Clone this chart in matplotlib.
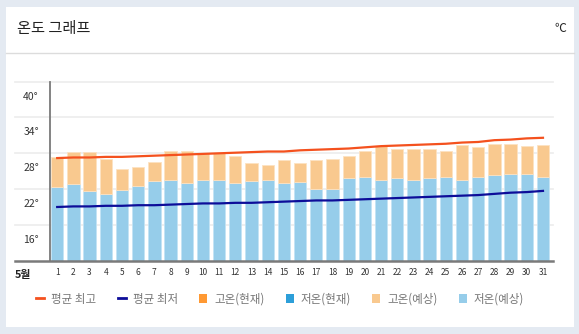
import numpy as np
import matplotlib
matplotlib.use("Agg")
import matplotlib.pyplot as plt
from matplotlib.lines import Line2D
from matplotlib.patches import Patch
from matplotlib.transforms import ScaledTranslation

plt.rcParams['font.family'] = ['Noto Sans CJK KR', 'DejaVu Sans']

# data (5월, day 1..31)
days = list(range(1, 32))
high_fc = [27.3, 28.3, 28.3, 27.1, 25.4, 25.7, 26.6, 28.4, 28.4, 28.1,
           28.1, 27.5, 26.4, 26.0, 26.9, 26.4, 26.9, 27.0, 27.5, 28.4,
           29.3, 28.7, 28.8, 28.8, 28.4, 29.4, 29.1, 29.6, 29.6, 29.3, 29.4]
low_fc = [22.4, 22.9, 21.7, 21.2, 21.9, 22.6, 23.4, 23.6, 23.0, 23.6,
          23.6, 23.0, 23.4, 23.6, 23.1, 23.2, 22.0, 22.0, 23.9, 24.0,
          23.6, 23.9, 23.6, 23.9, 24.0, 23.6, 24.1, 24.3, 24.5, 24.6, 24.1]
avg_high = [27.2, 27.3, 27.3, 27.4, 27.4, 27.5, 27.6, 27.7, 27.8, 27.9,
            28.0, 28.1, 28.2, 28.3, 28.3, 28.5, 28.6, 28.7, 28.8, 29.0,
            29.2, 29.3, 29.4, 29.5, 29.6, 29.8, 29.9, 30.2, 30.3, 30.5, 30.6]
avg_low = [19.0, 19.1, 19.1, 19.2, 19.2, 19.3, 19.3, 19.4, 19.5, 19.6,
           19.6, 19.7, 19.7, 19.8, 19.9, 20.0, 20.1, 20.1, 20.2, 20.3,
           20.4, 20.5, 20.6, 20.7, 20.8, 20.9, 21.0, 21.2, 21.4, 21.5, 21.7]
y_ticks = [40, 34, 28, 22, 16]
y_labels = ["40°", "34°", "28°", "22°", "16°"]
legend_labels = ["평균 최고", "평균 최저", "고온(현재)", "저온(현재)", "고온(예상)", "저온(예상)"]

W, H = 579, 334
fig = plt.figure(figsize=(W / 100, H / 100), dpi=100)
fig.patch.set_facecolor('#e4eaf2')

# white card
card = plt.Rectangle((6 / W, 1 - 327 / H), 568 / W, 320 / H, transform=fig.transFigure,
                     facecolor='white', edgecolor='none', zorder=-5)
fig.patches.append(card)
fig.add_artist(Line2D([6 / W, 574 / W], [1 - 53 / H, 1 - 53 / H], color='#dcdcdc', lw=1.0,
                      zorder=-4))
fig.text(17 / W, 1 - 29 / H, "온도 그래프", fontsize=11, color='#222222', va='center', ha='left')
fig.text(566 / W, 1 - 28 / H, "℃", fontsize=8.5, color='#222222', va='center', ha='right')

ax_l, ax_r, ax_t, ax_b = 50, 552.7, 81.7, 260.7
ax = fig.add_axes([ax_l / W, 1 - ax_b / H, (ax_r - ax_l) / W, (ax_b - ax_t) / H])
ax.set_facecolor('none')
ax.set_xlim(0.556, 31.6)
ax.set_ylim(10, 40)

# grid lines extending left past the axis
ext = -(ax_l - 15) / (ax_r - ax_l)
for y in y_ticks:
    ax.axhline(y, xmin=ext, xmax=1, color='#ececec', lw=1.2, clip_on=False, zorder=0)

days_a = np.array(days)
high_a = np.array(high_fc)
low_a = np.array(low_fc)
ax.bar(days_a, low_a - 10, bottom=10, width=0.76, color='#96cdea',
       edgecolor='#c4e3f4', linewidth=0.6, zorder=2)
ax.bar(days_a, high_a - low_a, bottom=low_a, width=0.76, color='#f9c98f',
       edgecolor='#fde2c2', linewidth=0.6, zorder=2)
ax.plot(days, avg_high, color='#f4511e', lw=1.6, zorder=3)
ax.plot(days, avg_low, color='#0d0d99', lw=1.6, zorder=3)

for s in ['top', 'right']:
    ax.spines[s].set_visible(False)
ax.spines['left'].set_color('#7a7a7a')
ax.spines['left'].set_linewidth(1.3)
ax.spines['bottom'].set_visible(False)
ax.axhline(10, xmin=ext, xmax=1, color='#7a7a7a', lw=1.8, clip_on=False, zorder=4)

ax.set_yticks(y_ticks)
ax.set_yticklabels(y_labels, fontsize=7.5, color='#333333')
ax.tick_params(axis='y', length=0, pad=8)
off = ScaledTranslation(0, -14 / 100, fig.dpi_scale_trans)
for lab in ax.get_yticklabels():
    lab.set_transform(lab.get_transform() + off)

ax.set_xticks(days)
ax.set_xticklabels([str(d) for d in days], fontsize=6, color='#333333')
ax.tick_params(axis='x', length=0, pad=5)
fig.text(23 / W, 1 - 278 / H, "5월", fontsize=7.8, color='#222222', va='baseline', ha='center',
         fontweight='bold')

handles = [
    Line2D([], [], color='#f4511e', lw=2),
    Line2D([], [], color='#0d0d99', lw=2),
    Patch(facecolor='#ff9933'),
    Patch(facecolor='#2d9fd9'),
    Patch(facecolor='#f9c98f'),
    Patch(facecolor='#96cdea'),
]
leg = fig.legend(handles, legend_labels, loc='center', bbox_to_anchor=(280 / W, 1 - 299 / H),
                 ncol=6, frameon=False, fontsize=8.3, handlelength=0.7, handleheight=0.7,
                 handletextpad=0.6, columnspacing=1.85)
for t in leg.get_texts():
    t.set_color('#777777')

fig.savefig("out.png", dpi=100)
